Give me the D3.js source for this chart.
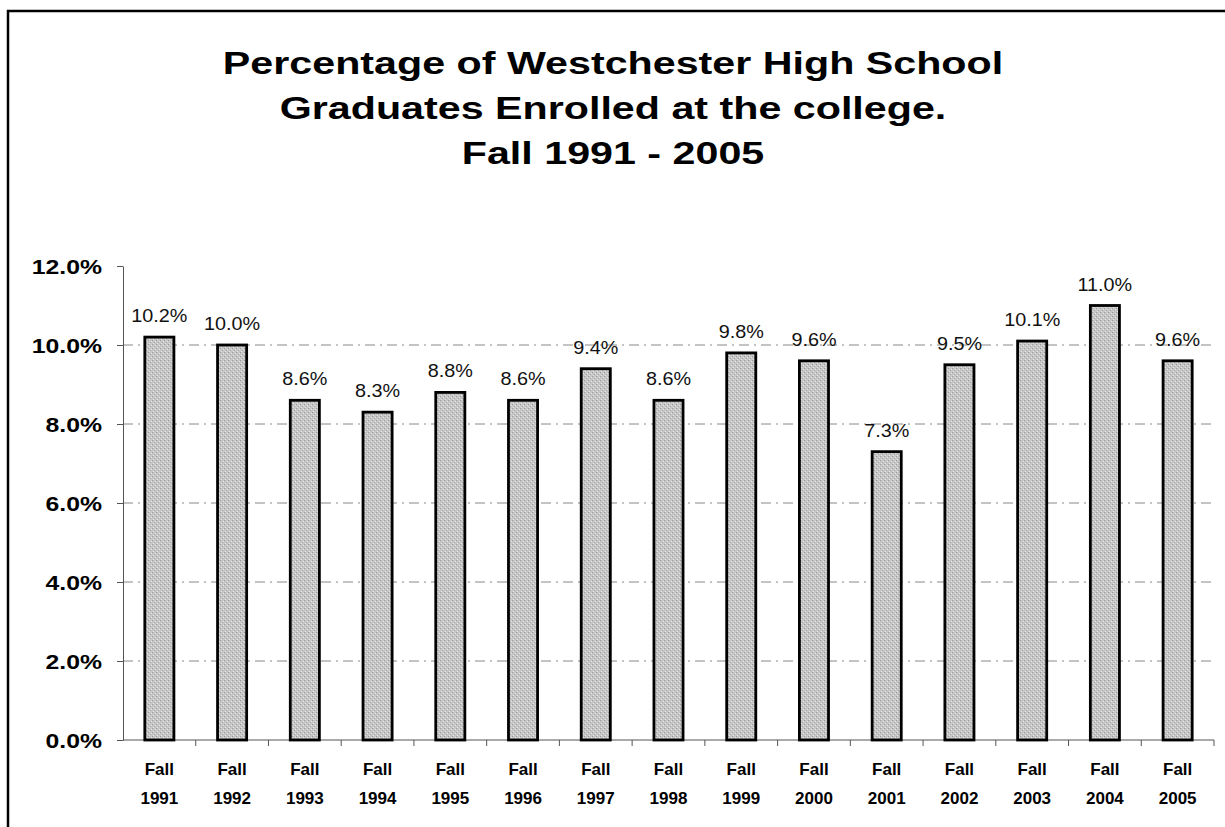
<!DOCTYPE html>
<html>
<head>
<meta charset="utf-8">
<script src="https://cdn.jsdelivr.net/npm/d3@7"></script>
<style>
  body { margin: 0; background: #fff; }
  svg { display: block; font-family: "Liberation Sans", Arial, sans-serif; }
</style>
</head>
<body>
<svg id="chart"></svg>
<script>
var years = ['1991', '1992', '1993', '1994', '1995', '1996', '1997', '1998',
             '1999', '2000', '2001', '2002', '2003', '2004', '2005'];
var values = [10.2, 10.0, 8.6, 8.3, 8.8, 8.6, 9.4, 8.6, 9.8, 9.6, 7.3, 9.5, 10.1, 11.0, 9.6];
var yTicks = [0, 2, 4, 6, 8, 10, 12];
var titleLines = ['Percentage of Westchester High School',
                  'Graduates Enrolled at the college.',
                  'Fall 1991 - 2005'];

var config = {
  svgWidth: 1225,
  svgHeight: 827,
  plotLeft: 123,
  plotRight: 1214,
  plotTop: 266,
  plotBottom: 740,
  barFill: '#c6c6c6'
};

var svg = d3.select('#chart')
  .attr('width', config.svgWidth)
  .attr('height', config.svgHeight);

// the scanned text is a bit wider than plain Arial, so stretch it sideways
function place(sel, xf, yf, sx) {
  sel.attr('transform', function(d, i) {
    return 'translate(' + xf(d, i) + ',' + yf(d, i) + ') scale(' + sx + ',1)';
  });
}

// stippled fill roughly like the scanned bars
var defs = svg.append('defs');
var pat = defs.append('pattern')
  .attr('id', 'stipple')
  .attr('width', 4)
  .attr('height', 4)
  .attr('patternUnits', 'userSpaceOnUse');
pat.append('rect').attr('width', 4).attr('height', 4).attr('fill', config.barFill);
pat.append('rect').attr('x', 0).attr('y', 0).attr('width', 1).attr('height', 1).attr('fill', '#9a9a9a');
pat.append('rect').attr('x', 2).attr('y', 2).attr('width', 1).attr('height', 1).attr('fill', '#a8a8a8');
pat.append('rect').attr('x', 1).attr('y', 3).attr('width', 1).attr('height', 1).attr('fill', '#e4e4e4');
pat.append('rect').attr('x', 3).attr('y', 1).attr('width', 1).attr('height', 1).attr('fill', '#e4e4e4');

// frame (left and top edges visible)
svg.append('path')
  .attr('d', 'M8,827 L8,11 L1225,11')
  .attr('fill', 'none')
  .attr('stroke', '#000')
  .attr('stroke-width', 2.5);

// title
var title = svg.append('g')
  .selectAll('text')
  .data(titleLines)
  .enter()
  .append('text')
  .attr('text-anchor', 'middle')
  .attr('font-size', '31px')
  .attr('font-weight', 'bold')
  .attr('fill', '#000')
  .text(function(d) { return d; });
place(title, function() { return 613; }, function(d, i) { return 74 + i * 45; }, 1.33);

var x = d3.scaleBand()
  .domain(years)
  .range([config.plotLeft, config.plotRight])
  .paddingInner(0.6)
  .paddingOuter(0.3);

var y = d3.scaleLinear()
  .domain([0, 12])
  .range([config.plotBottom, config.plotTop]);

// gridlines
svg.append('g')
  .selectAll('line')
  .data(yTicks.filter(function(d) { return d > 0 && d < 12; }))
  .enter()
  .append('line')
  .attr('x1', config.plotLeft)
  .attr('x2', config.plotRight)
  .attr('y1', function(d) { return y(d); })
  .attr('y2', function(d) { return y(d); })
  .attr('stroke', '#888')
  .attr('stroke-width', 1)
  .attr('stroke-dasharray', '10,5,2,5');

// y axis
var yAxis = svg.append('g')
  .attr('transform', 'translate(' + config.plotLeft + ',0)')
  .call(d3.axisLeft(y).tickValues(yTicks).tickSize(6).tickSizeOuter(0).tickFormat(''));
yAxis.select('.domain').attr('stroke', '#555').attr('stroke-width', 1);
yAxis.selectAll('.tick line').attr('stroke', '#555');

var yLabels = svg.append('g')
  .selectAll('text')
  .data(yTicks)
  .enter()
  .append('text')
  .attr('text-anchor', 'end')
  .attr('dy', '0.36em')
  .attr('font-size', '21px')
  .attr('font-weight', 'bold')
  .attr('fill', '#000')
  .text(function(d) { return d.toFixed(1) + '%'; });
place(yLabels, function() { return 102; }, function(d) { return y(d); }, 1.18);

// x axis with ticks between categories
var xAxisG = svg.append('g');
xAxisG.append('line')
  .attr('x1', config.plotLeft)
  .attr('x2', config.plotRight)
  .attr('y1', y(0))
  .attr('y2', y(0))
  .attr('stroke', '#555')
  .attr('stroke-width', 1);
xAxisG.selectAll('.xtick')
  .data(years)
  .enter()
  .append('line')
  .attr('class', 'xtick')
  .attr('x1', function(d) { return x(d) + x.bandwidth() / 2 + x.step() / 2; })
  .attr('x2', function(d) { return x(d) + x.bandwidth() / 2 + x.step() / 2; })
  .attr('y1', y(0))
  .attr('y2', y(0) + 6)
  .attr('stroke', '#555');

// bars
svg.append('g')
  .selectAll('rect')
  .data(values)
  .enter()
  .append('rect')
  .attr('x', function(d, i) { return x(years[i]); })
  .attr('y', function(d) { return y(d); })
  .attr('width', x.bandwidth())
  .attr('height', function(d) { return y(0) - y(d); })
  .attr('fill', 'url(#stipple)')
  .attr('stroke', '#000')
  .attr('stroke-width', 2.8);

// value labels
var valueLabels = svg.append('g')
  .selectAll('text')
  .data(values)
  .enter()
  .append('text')
  .attr('text-anchor', 'middle')
  .attr('font-size', '18px')
  .attr('fill', '#111')
  .text(function(d) { return d.toFixed(1) + '%'; });
place(valueLabels,
  function(d, i) { return x(years[i]) + x.bandwidth() / 2; },
  function(d) { return y(d) - 15; }, 1.1);

// category labels
var catG = svg.append('g')
  .selectAll('g')
  .data(years)
  .enter()
  .append('g')
  .attr('transform', function(d) { return 'translate(' + (x(d) + x.bandwidth() / 2) + ',0)'; });
catG.append('text')
  .attr('text-anchor', 'middle')
  .attr('y', 775)
  .attr('font-size', '17px')
  .attr('font-weight', 'bold')
  .attr('fill', '#000')
  .text('Fall');
catG.append('text')
  .attr('text-anchor', 'middle')
  .attr('y', 804)
  .attr('font-size', '17px')
  .attr('font-weight', 'bold')
  .attr('fill', '#000')
  .text(function(d) { return d; });
</script>
</body>
</html>
